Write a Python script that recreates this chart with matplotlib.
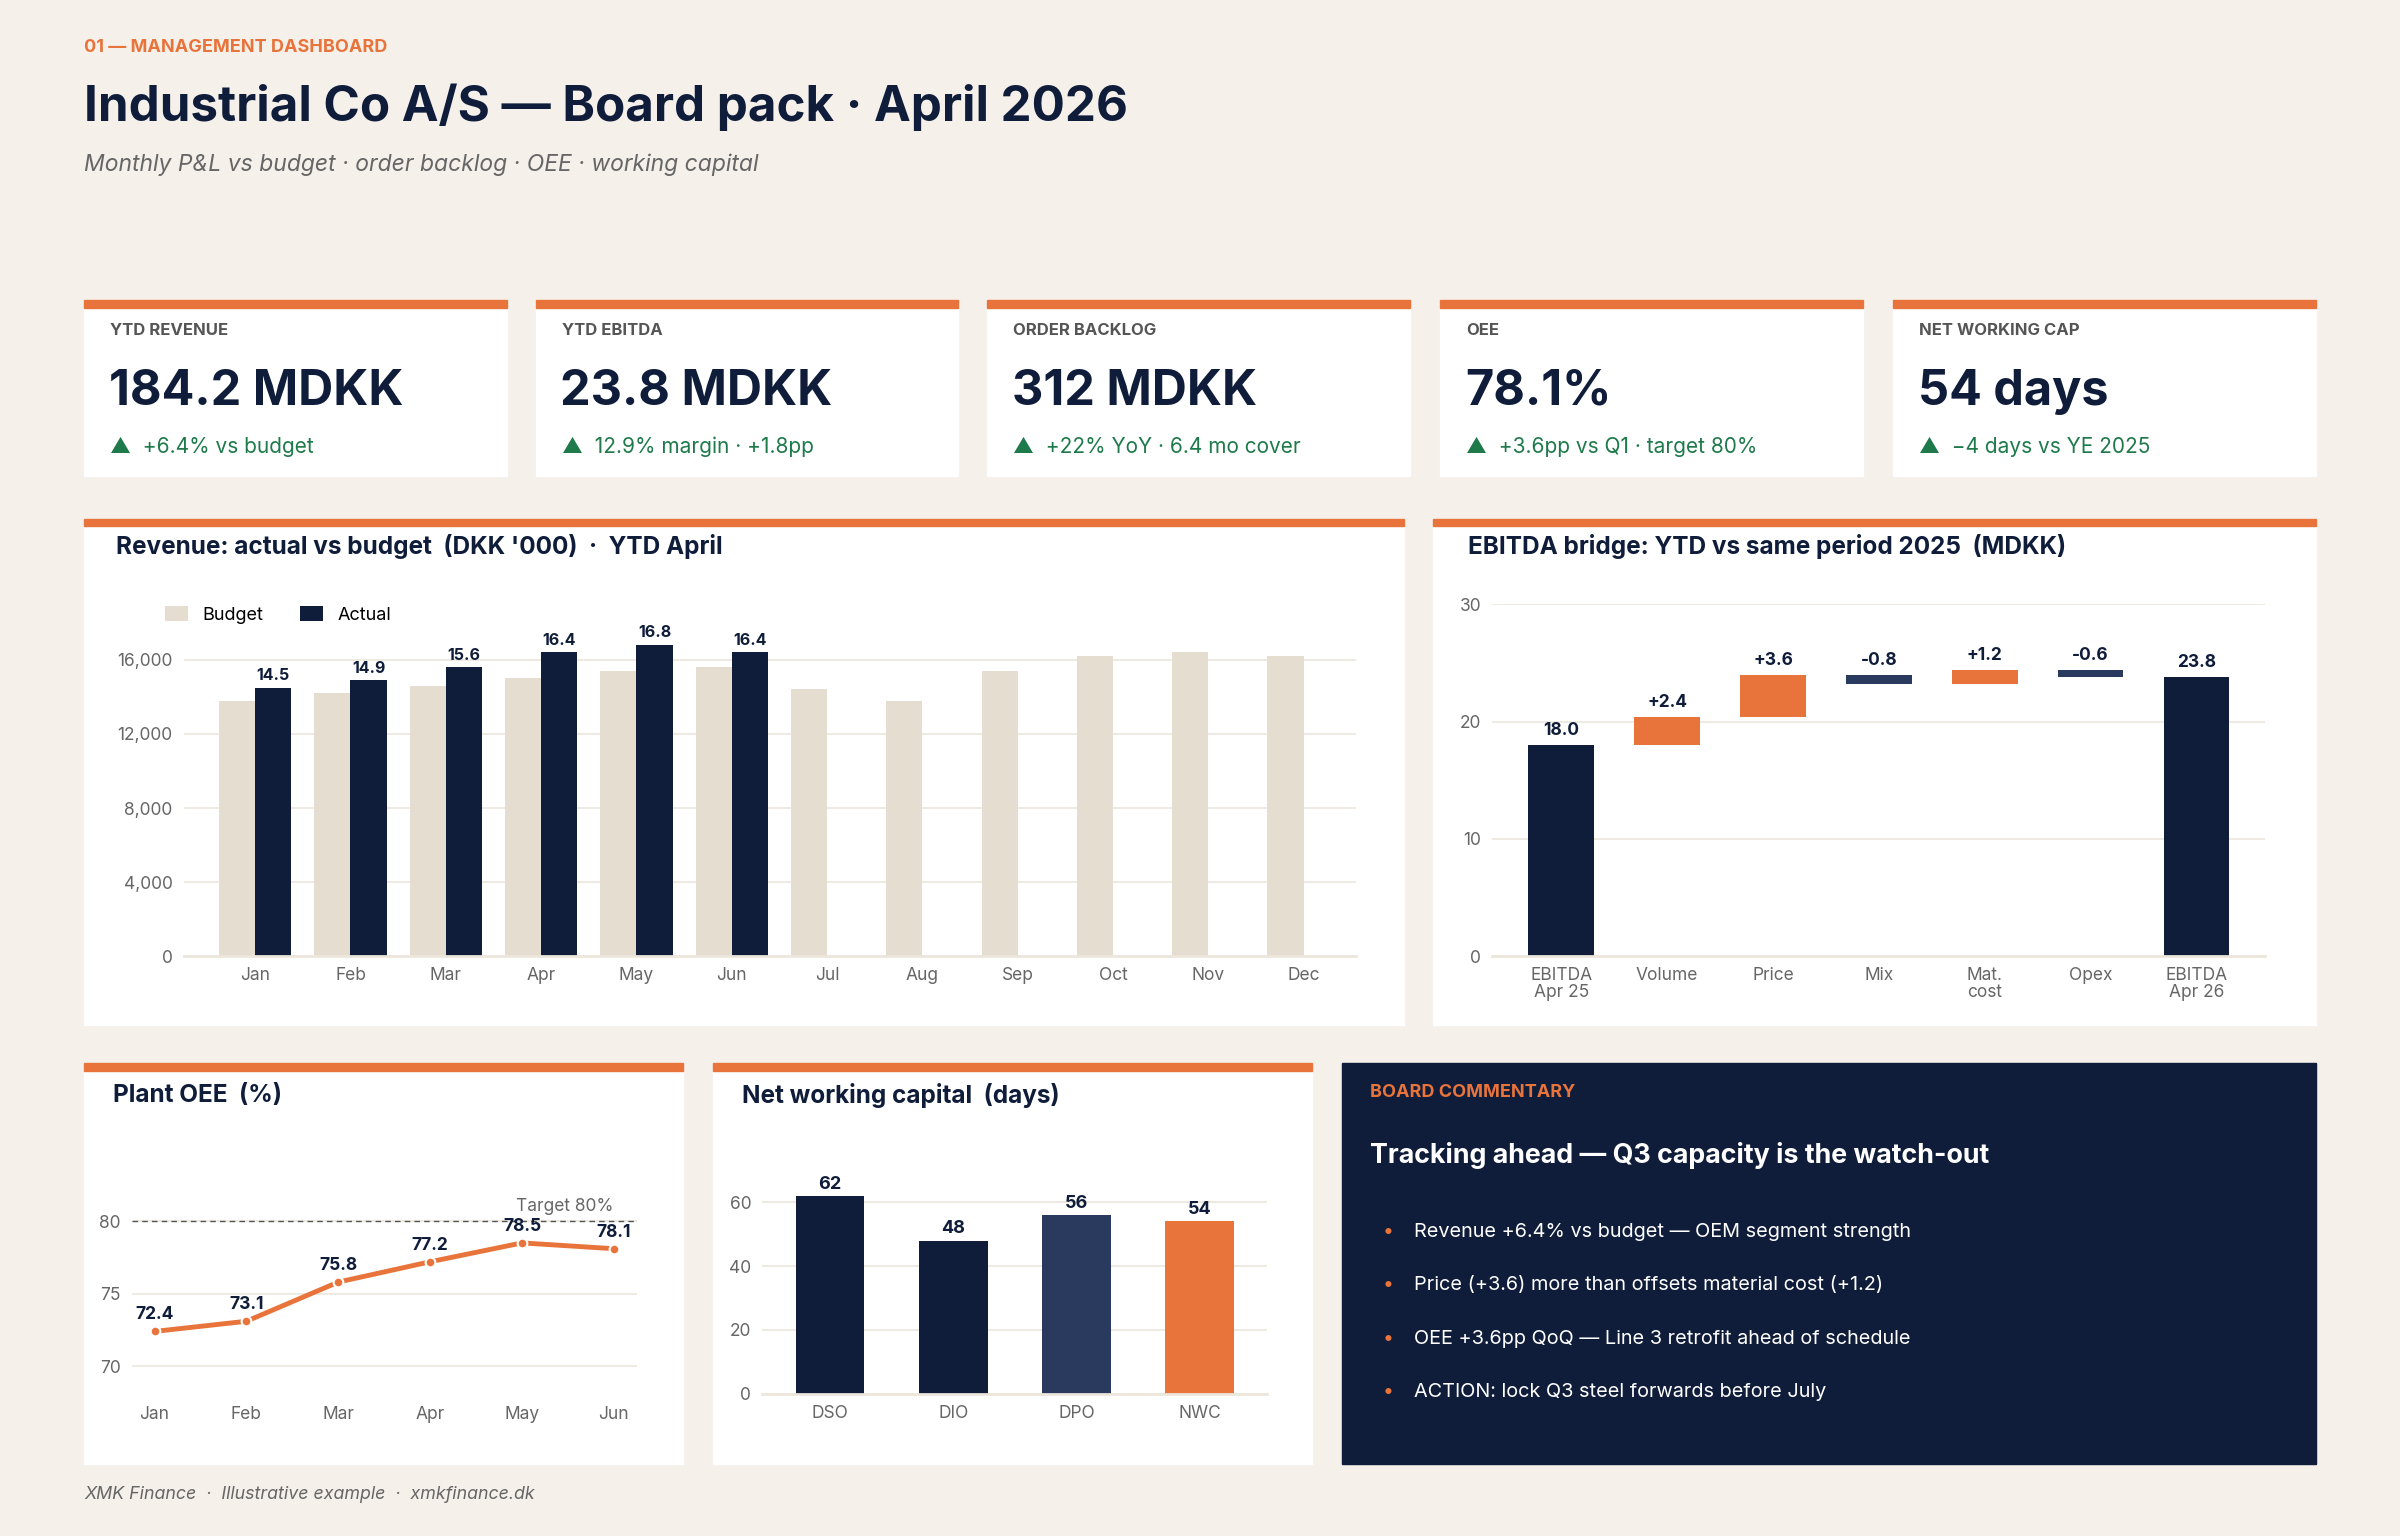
import numpy as np
import matplotlib.pyplot as plt
from matplotlib.patches import Rectangle

plt.rcParams['font.family'] = ['Inter', 'DejaVu Sans']

# ---- data ----
months = ['Jan', 'Feb', 'Mar', 'Apr', 'May', 'Jun', 'Jul', 'Aug', 'Sep', 'Oct', 'Nov', 'Dec']
budget = [13800, 14200, 14600, 15000, 15400, 15600, 14400, 13800, 15400, 16200, 16400, 16200]
actual = [14500, 14900, 15600, 16400, 16800, 16400]

bridge_labels = ['EBITDA\nApr 25', 'Volume', 'Price', 'Mix', 'Mat.\ncost', 'Opex', 'EBITDA\nApr 26']
bridge_steps = [18.0, 2.4, 3.6, -0.8, 1.2, -0.6]

oee_months = ['Jan', 'Feb', 'Mar', 'Apr', 'May', 'Jun']
oee = [72.4, 73.1, 75.8, 77.2, 78.5, 78.1]
oee_target = 80

nwc_labels = ['DSO', 'DIO', 'DPO', 'NWC']
nwc_days = [62, 48, 56, 54]

kpi_labels = ['YTD REVENUE', 'YTD EBITDA', 'ORDER BACKLOG', 'OEE', 'NET WORKING CAP']
kpi_values = ['184.2 MDKK', '23.8 MDKK', '312 MDKK', '78.1%', '54 days']
kpi_deltas = ['+6.4% vs budget', '12.9% margin · +1.8pp', '+22% YoY · 6.4 mo cover',
              '+3.6pp vs Q1 · target 80%', '\u22124 days vs YE 2025']

bullets = ['Revenue +6.4% vs budget \u2014 OEM segment strength',
           'Price (+3.6) more than offsets material cost (+1.2)',
           'OEE +3.6pp QoQ \u2014 Line 3 retrofit ahead of schedule',
           'ACTION: lock Q3 steel forwards before July']

# ---- style ----
BG = '#f5f0ea'
NAVY = '#0f1d3a'
NAVY2 = '#2a3a5e'
ORANGE = '#e8743b'
BEIGE = '#e4ddd0'
GREEN = '#1e7a4a'
GRAY = '#666666'
GRID = '#ece6dc'

W, H = 1568.0, 1004.0  # layout units (scaled reference)
fig = plt.figure(figsize=(24, 15.36), dpi=100, facecolor=BG)


def fx(x):
    return x / W


def fy(y):
    return 1 - y / H


def txt(x, y, s, **kw):
    fig.text(fx(x), fy(y), s, **kw)


def box(x0, y0, x1, y1, color='white', top=True):
    fig.patches.append(Rectangle((fx(x0), fy(y1)), fx(x1) - fx(x0), fy(y0) - fy(y1),
                                 transform=fig.transFigure, color=color, zorder=0))
    if top:
        fig.patches.append(Rectangle((fx(x0), fy(y0 + 5)), fx(x1) - fx(x0), fy(y0) - fy(y0 + 5),
                                     transform=fig.transFigure, color=ORANGE, zorder=1))


def axes(x0, y0, x1, y1):
    ax = fig.add_axes([fx(x0), fy(y1), fx(x1) - fx(x0), fy(y0) - fy(y1)])
    ax.set_zorder(3)
    ax.set_facecolor('none')
    for s in ['top', 'right', 'left']:
        ax.spines[s].set_visible(False)
    ax.spines['bottom'].set_color(GRID)
    ax.spines['bottom'].set_linewidth(2)
    ax.tick_params(length=0, labelsize=12.5, labelcolor=GRAY, pad=8)
    ax.grid(axis='y', color=GRID, lw=1.2)
    ax.set_axisbelow(True)
    return ax


# header
txt(55, 31, '01 \u2014 MANAGEMENT DASHBOARD', color=ORANGE, fontsize=13, weight='bold', va='center')
txt(55, 70, 'Industrial Co A/S \u2014 Board pack \u00b7 April 2026', color=NAVY, fontsize=35.5,
    weight='bold', va='center')
txt(55, 108, 'Monthly P&L vs budget \u00b7 order backlog \u00b7 OEE \u00b7 working capital',
    color=GRAY, fontsize=16.5, style='italic', va='center')

# KPI cards
card_x = [55, 350, 645, 941, 1237]
for i, x0 in enumerate(card_x):
    box(x0, 196, x0 + 276, 311)
    txt(x0 + 17, 216, kpi_labels[i], color='#555555', fontsize=12, weight='bold', va='center')
    txt(x0 + 16, 256, kpi_values[i], color=NAVY, fontsize=35, weight='bold', va='center')
    txt(x0 + 17, 292, '\u25b2  ' + kpi_deltas[i], color=GREEN, fontsize=15, va='center')

# revenue panel
box(55, 339, 917, 670)
txt(76, 357, "Revenue: actual vs budget  (DKK '000)  \u00b7  YTD April", color=NAVY,
    fontsize=17.5, weight='bold', va='center')
ax = axes(120, 395, 886, 625)
x = np.arange(len(months))
bw = 0.38
ax.bar(x - bw / 2, budget, bw, color=BEIGE, label='Budget')
xa = np.arange(len(actual))
ax.bar(xa + bw / 2, actual, bw, color=NAVY, label='Actual')
for xi, v in zip(xa, actual):
    ax.text(xi + bw / 2, v + 250, f'{v / 1000:.1f}', ha='center', va='bottom',
            fontsize=11.5, weight='bold', color=NAVY)
ax.set_xticks(x, months)
ax.set_yticks([0, 4000, 8000, 12000, 16000], ['0', '4,000', '8,000', '12,000', '16,000'])
ax.set_ylim(0, 19000)
ax.set_xlim(-0.75, 11.55)
ax.legend(loc='upper left', bbox_to_anchor=(-0.03, 1.04), ncol=2, frameon=False,
          fontsize=13, handlelength=1.3, handleheight=0.9, columnspacing=2)

# EBITDA bridge
box(936, 339, 1513, 670)
txt(959, 357, 'EBITDA bridge: YTD vs same period 2025  (MDKK)', color=NAVY,
    fontsize=17.5, weight='bold', va='center')
ax = axes(975, 395, 1480, 625)
cum = 0
for i, step in enumerate(bridge_steps):
    if i == 0:
        ax.bar(i, step, 0.62, color=NAVY)
        ax.text(i, step + 0.5, f'{step:.1f}', ha='center', va='bottom', fontsize=12.5,
                weight='bold', color=NAVY)
        cum = step
        continue
    bottom = cum if step > 0 else cum + step
    ax.bar(i, abs(step), 0.62, bottom=bottom, color=ORANGE if step > 0 else NAVY2)
    ax.text(i, bottom + abs(step) + 0.5, f'{step:+.1f}', ha='center', va='bottom',
            fontsize=12.5, weight='bold', color=NAVY)
    cum += step
n = len(bridge_steps)
ax.bar(n, cum, 0.62, color=NAVY)
ax.text(n, cum + 0.5, f'{cum:.1f}', ha='center', va='bottom', fontsize=12.5,
        weight='bold', color=NAVY)
ax.set_xticks(range(len(bridge_labels)), bridge_labels, linespacing=0.95)
ax.set_yticks([0, 10, 20, 30])
ax.set_ylim(0, 30)
ax.set_xlim(-0.65, 6.65)

# OEE
box(55, 695, 446, 957)
txt(74, 716, 'Plant OEE  (%)', color=NAVY, fontsize=17.5, weight='bold', va='center')
ax = axes(86, 765, 416, 912)
xo = np.arange(len(oee))
ax.axhline(oee_target, color='#555555', lw=1, ls=(0, (4, 3)))
ax.text(5.0, oee_target + 0.4, 'Target 80%', ha='right', va='bottom', fontsize=12.5, color=GRAY)
ax.plot(xo, oee, color=ORANGE, lw=3.5, marker='o', ms=7, mfc=ORANGE, mec='white', mew=1.5)
for xi, v in zip(xo, oee):
    ax.text(xi, v + 0.55, f'{v:.1f}', ha='center', va='bottom', fontsize=12.5,
            weight='bold', color=NAVY)
ax.set_xticks(xo, oee_months)
ax.set_yticks([70, 75, 80])
ax.set_ylim(68, 83.5)
ax.set_xlim(-0.25, 5.25)
ax.spines['bottom'].set_visible(False)

# NWC
box(466, 695, 857, 957)
txt(485, 716, 'Net working capital  (days)', color=NAVY, fontsize=17.5, weight='bold', va='center')
ax = axes(498, 765, 828, 911)
nwc_colors = [NAVY, NAVY, NAVY2, ORANGE]
ax.bar(range(len(nwc_days)), nwc_days, 0.56, color=nwc_colors)
for i, v in enumerate(nwc_days):
    ax.text(i, v + 1, str(v), ha='center', va='bottom', fontsize=13, weight='bold', color=NAVY)
ax.set_xticks(range(len(nwc_labels)), nwc_labels)
ax.set_yticks([0, 20, 40, 60])
ax.set_ylim(0, 70)
ax.set_xlim(-0.55, 3.55)

# commentary
box(877, 695, 1513, 957, color=NAVY, top=False)
txt(895, 714, 'BOARD COMMENTARY', color=ORANGE, fontsize=13, weight='bold', va='center')
txt(895, 755, 'Tracking ahead \u2014 Q3 capacity is the watch-out', color='white',
    fontsize=19.3, weight='bold', va='center')
for i, b in enumerate(bullets):
    y = 805 + 35 * i
    txt(903, y, '\u2022', color=ORANGE, fontsize=14, va='center')
    txt(924, y, b, color='white', fontsize=14.3, va='center')

# footer
txt(55, 977, 'XMK Finance  \u00b7  Illustrative example  \u00b7  xmkfinance.dk', color=GRAY,
    fontsize=12.8, style='italic', va='center')

fig.savefig('out.png', dpi=100, facecolor=BG)
